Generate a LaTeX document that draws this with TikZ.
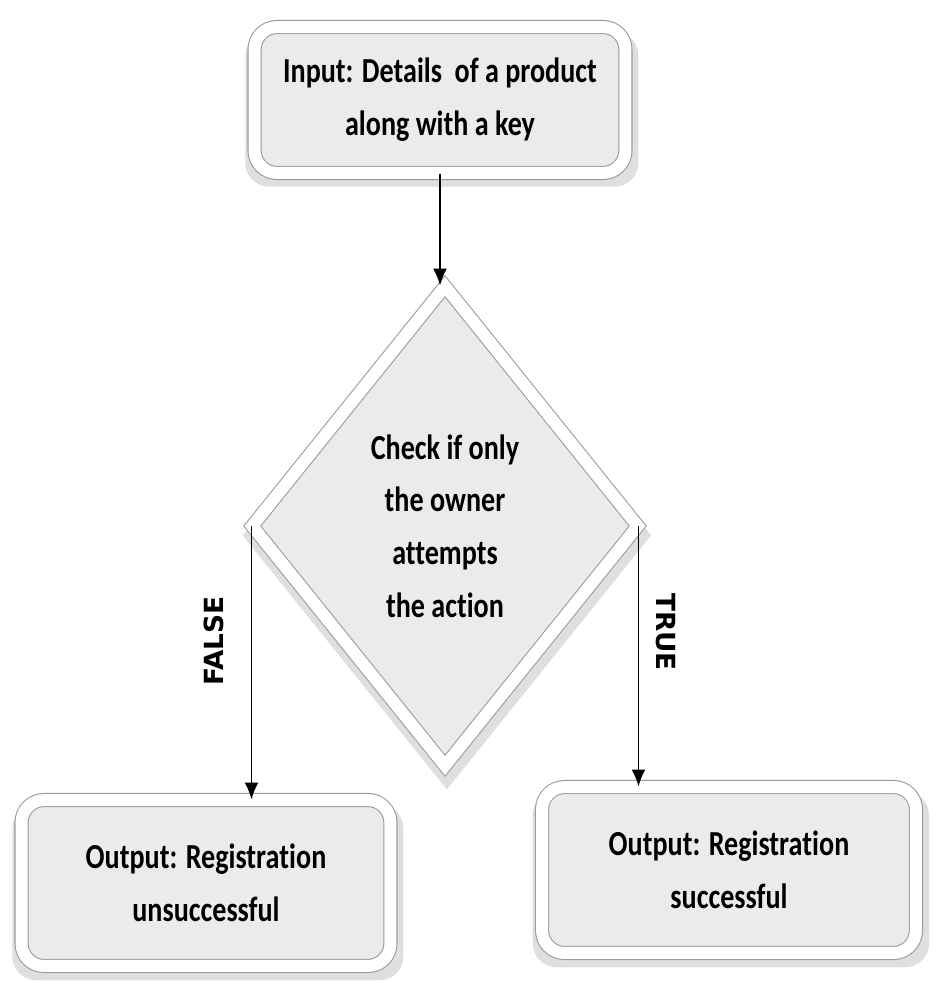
\documentclass[tikz,border=0pt]{standalone}
\usepackage{fontspec}
\setmainfont{Carlito}[FakeStretch=0.8, Ligatures={NoCommon,NoRare,NoContextual}, Contextuals=NoAlternate]
\newfontfamily\labelfont{DejaVu Sans}
\usetikzlibrary{shapes.geometric,shadows,arrows.meta}

\definecolor{panelgray}{HTML}{EBEBEB}
\definecolor{rimgray}{HTML}{9A9A9A}

\begin{document}
\begin{tikzpicture}[x=0.02cm,y=-0.02cm,
        bevel/.style={draw=rimgray, line width=0.6pt, double=white, double distance=0.24cm,
            fill=panelgray, align=center, inner sep=0pt,
            drop shadow={shadow xshift=1pt, shadow yshift=-5pt, shadow scale=1.06, opacity=0.25},
            font=\bfseries\fontsize{20}{30}\selectfont},
        bevelbox/.style={bevel, rectangle, rounded corners=0.45cm},
        decision/.style={bevel, diamond, aspect=0.78},
        flow/.style={-{Latex[length=0.34cm,width=0.28cm]}, line width=1pt},
        branch/.style={font=\labelfont\bfseries\fontsize{15}{15}\selectfont}]
    \useasboundingbox (0,0) rectangle (941,1000);

    % boxes
    \node[bevelbox, minimum width=7.42cm, minimum height=2.92cm] (input) at (440,100) {Input: Details\ \ of a product\\along with a key};
    \node[decision, minimum width=7.72cm, minimum height=9.6cm] (check) at (445,526) {Check if only\\the owner\\attempts\\the action};
    \node[bevelbox, minimum width=7.38cm, minimum height=3.32cm] (fail) at (206,883) {Output: Registra\kern0pt tion\\unsuccessful};
    \node[bevelbox, minimum width=7.48cm, minimum height=3.32cm] (pass) at (729,870) {Output: Registra\kern0pt tion\\successful};

    % arrows
    \draw[flow] (input) -- (input |- check.north);
    \draw[flow] (check.west) -- (check.west |- fail.north);
    \draw[flow] (check.east) -- (check.east |- pass.north);

    \node[branch, rotate=90] (falselbl) at (214,641) {FALSE};
    \node[branch, rotate=-90] (truelbl) at (666,632) {TRUE};
\end{tikzpicture}
\end{document}
